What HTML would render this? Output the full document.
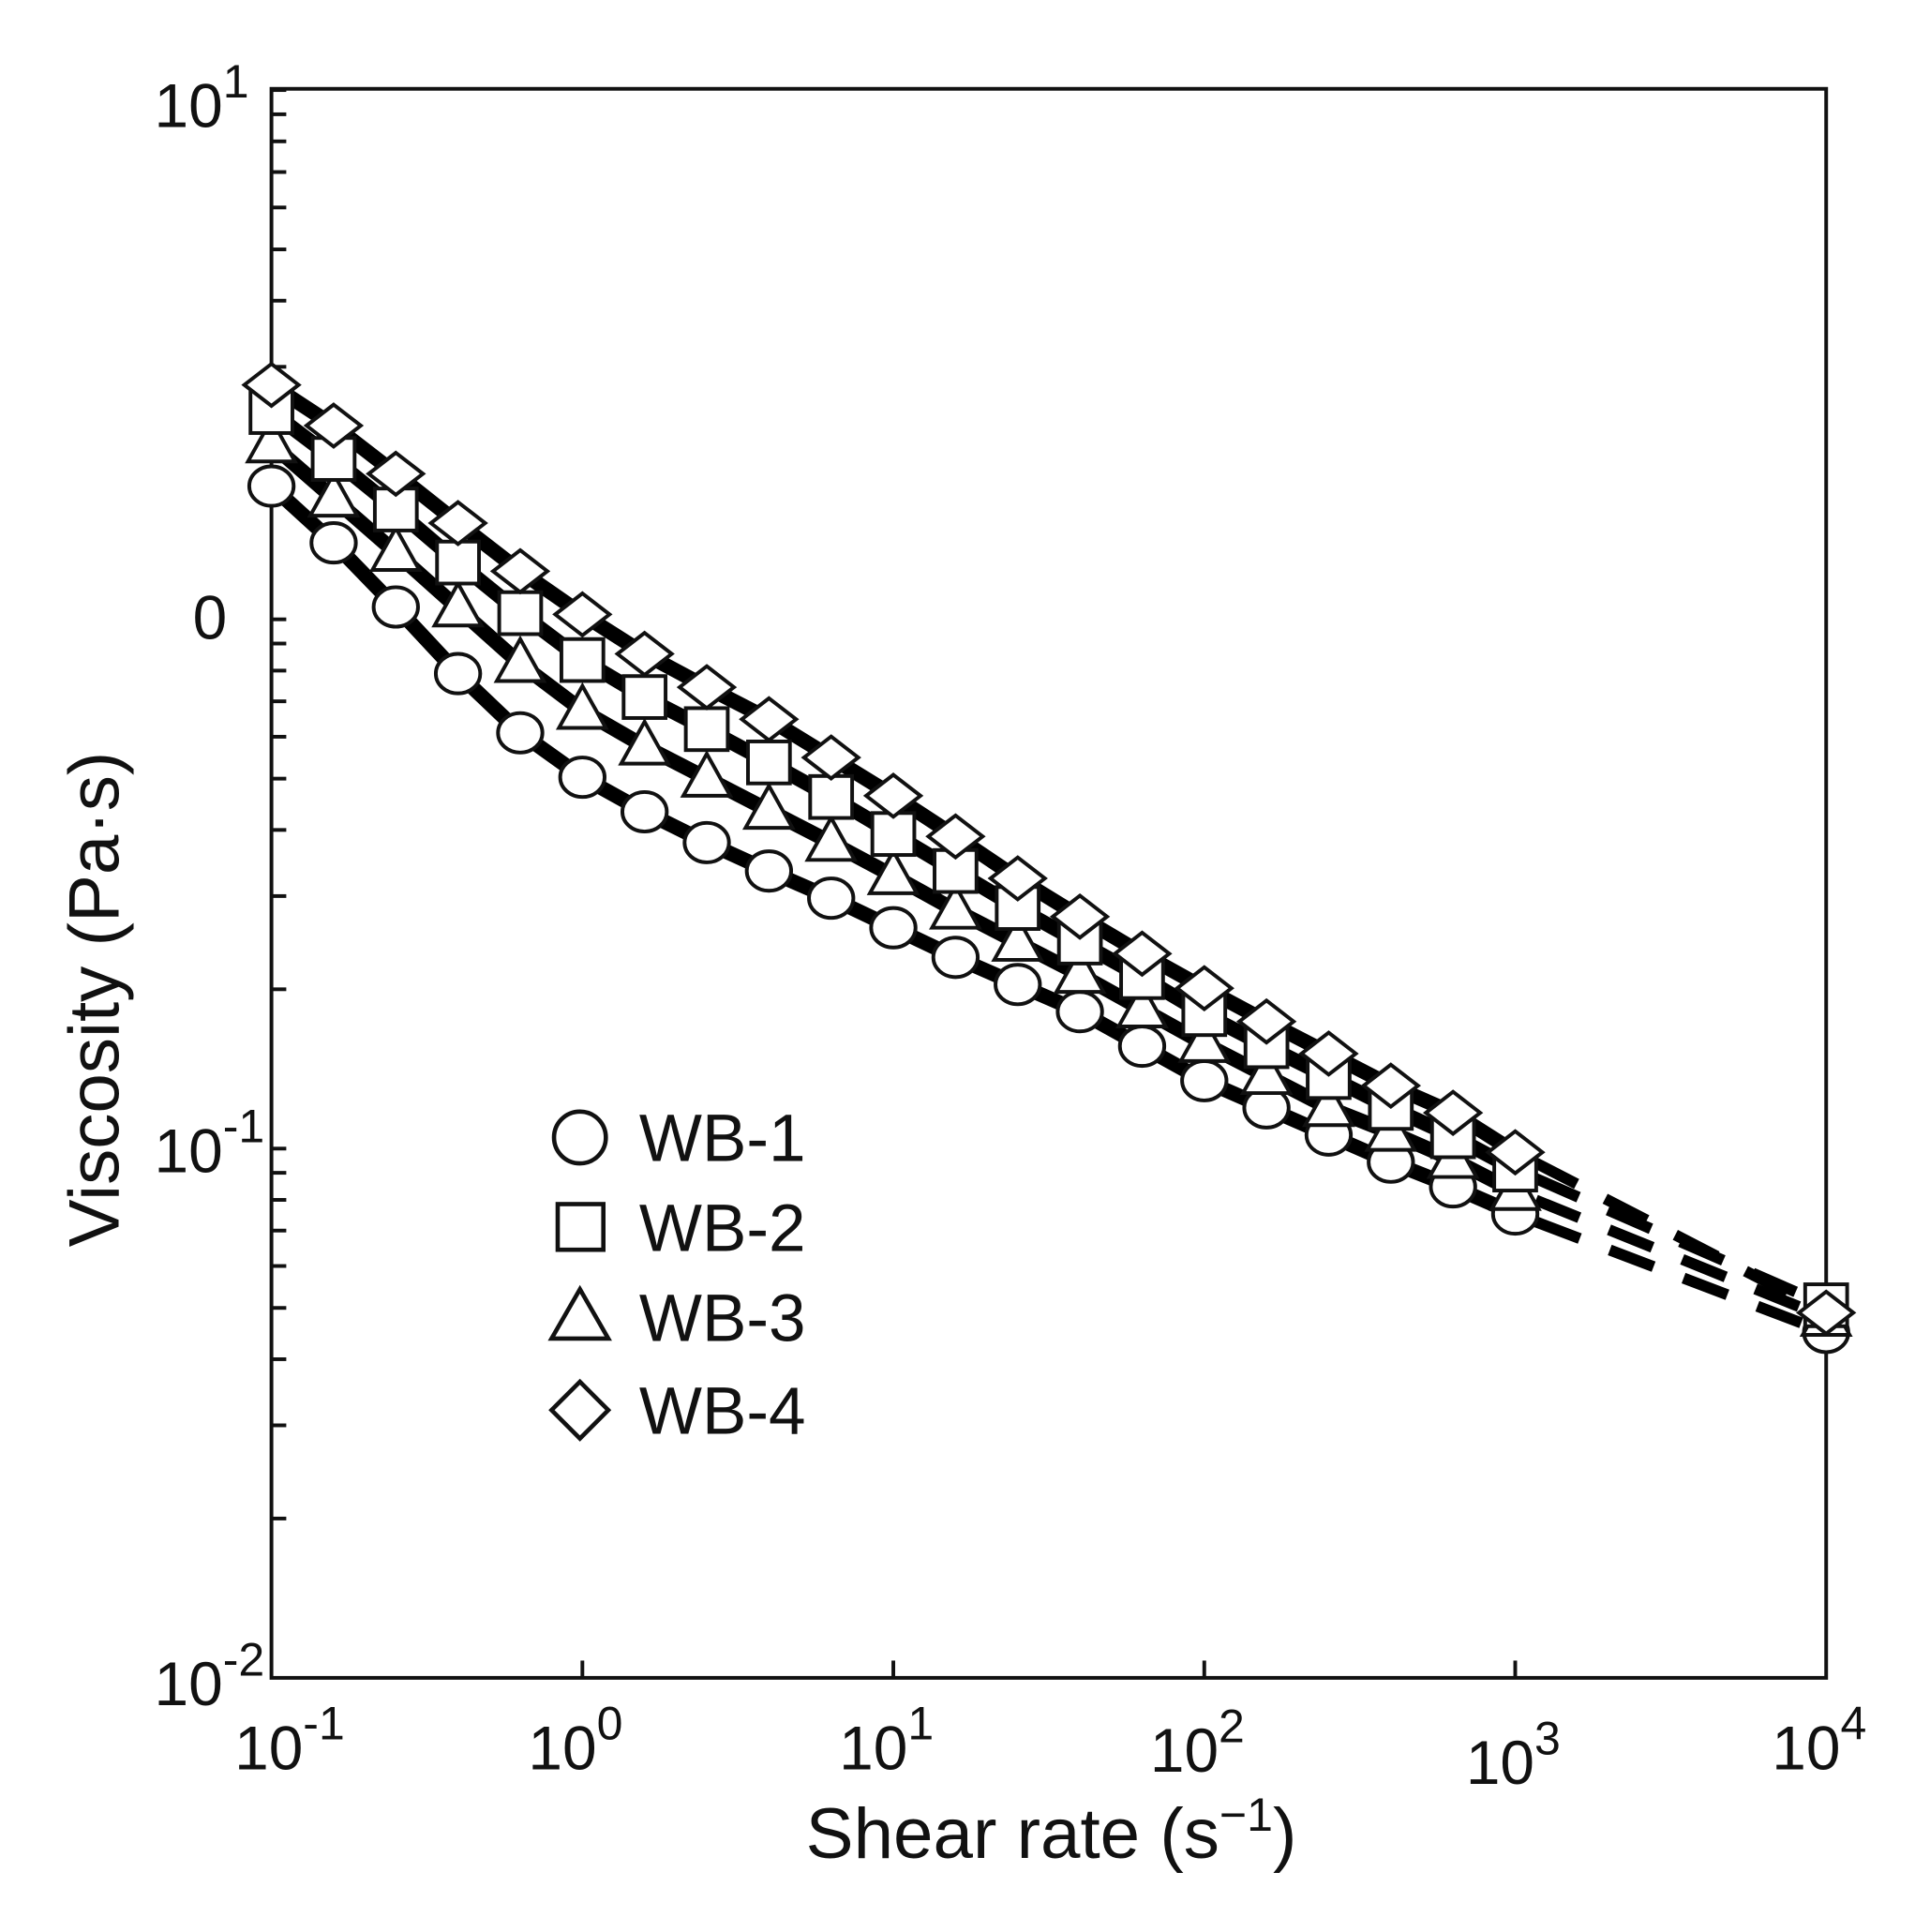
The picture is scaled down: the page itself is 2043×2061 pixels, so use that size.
<!DOCTYPE html>
<html><head><meta charset="utf-8"><style>
html,body{margin:0;padding:0;background:#fff;}
svg{display:block;}
text{font-family:"Liberation Sans",Arial,sans-serif;fill:#111;}
</style></head><body>
<svg width="2043" height="2061" viewBox="0 0 1552 1566" preserveAspectRatio="none" xmlns="http://www.w3.org/2000/svg">
<rect width="1552" height="1566" fill="#fff"/>
<g id="g"></g>
</svg>
<script>
const NS="http://www.w3.org/2000/svg";
const g=document.getElementById("g");
function el(t,a,txt){const e=document.createElementNS(NS,t);for(const k in a)e.setAttribute(k,a[k]);if(txt!=null)e.textContent=txt;g.appendChild(e);return e;}
const L=220,R=1480,T=72,B=1360,D=429;
el("rect",{x:L,y:T,width:R-L,height:B-T,fill:"none",stroke:"#111","stroke-width":3});
for(let d=0;d<3;d++){const base=B-d*D;for(let m=2;m<=9;m++){const y=base-Math.log10(m)*D;el("line",{x1:L,y1:y,x2:L+12,y2:y,stroke:"#111","stroke-width":3});}
 el("line",{x1:L,y1:base-D,x2:L+12,y2:base-D,stroke:"#111","stroke-width":3});}
for(let i=1;i<5;i++){const x=L+i*252;el("line",{x1:x,y1:B,x2:x,y2:B-14,stroke:"#111","stroke-width":3});}
const xs=[];for(let i=0;i<21;i++)xs.push(L+i*50.4);
const S={
c:[394,440,492,546,594,630,658,683,706,728,752,776,798,820,848,876,898,920,942,962,984,1080],
s:[334,372,413,456,497,535,565,591,618,646,676,706,736,764,792,822,848,873,898,921,948,1058],
t:[360,404,448,493,538,576,605,631,657,683,710,738,764,790,818,846,872,898,918,940,966,1068],
d:[312,345,384,424,463,498,530,557,583,614,645,678,712,743,773,801,828,854,880,902,934,1064]};
const order=["c","t","s","d"];
for(const k of order){const ys=S[k];let p="";for(let i=0;i<21;i++)p+=(i?"L":"M")+xs[i]+" "+ys[i];
 el("path",{d:p,fill:"none",stroke:"#000","stroke-width":12,"stroke-linejoin":"round"});
 el("line",{x1:xs[20],y1:ys[20],x2:R,y2:ys[21],stroke:"#000","stroke-width":9,"stroke-dasharray":"38 26","stroke-dashoffset":"-18"});}
function mk(k,x,y){const a={fill:"#fff",stroke:"#111","stroke-width":3};
 if(k=="c")el("ellipse",Object.assign({cx:x,cy:y,rx:18,ry:16},a));
 if(k=="s")el("rect",Object.assign({x:x-17,y:y-17,width:34,height:34},a));
 if(k=="t")el("polygon",Object.assign({points:`${x},${y-20} ${x+19},${y+14} ${x-19},${y+14}`},a));
 if(k=="d")el("polygon",Object.assign({points:`${x},${y-17} ${x+22},${y} ${x},${y+17} ${x-22},${y}`},a));}
for(const k of order){const ys=S[k];for(let i=0;i<21;i++)mk(k,xs[i],ys[i]);mk(k,R,ys[21]);}
const lg=[["c","WB-1",922],["s","WB-2",995],["t","WB-3",1068],["d","WB-4",1143]];
for(const [k,t,y] of lg){
 const a={fill:"#fff",stroke:"#111","stroke-width":3.5};
 if(k=="c")el("circle",Object.assign({cx:470,cy:y,r:21},a));
 if(k=="s")el("rect",Object.assign({x:452,y:y-19,width:37,height:37},a));
 if(k=="t")el("polygon",Object.assign({points:`470,${y-23} 493,${y+17} 447,${y+17}`},a));
 if(k=="d")el("polygon",Object.assign({points:`470,${y-23} 493,${y} 470,${y+23} 447,${y}`},a));
 el("text",{x:518,y:y+19,"font-size":54},t);}
function pw(x,y,exp){const t=el("text",{x:x,y:y,"font-size":50});t.innerHTML=`10<tspan dy="-24" font-size="38">${exp}</tspan>`;return t;}
pw(125,103,"1");
el("text",{x:184,y:518,"font-size":50,"text-anchor":"end"},"0");
pw(125,950,"-1");
pw(125,1382,"-2");
const xl=[[190,1434,"-1"],[428,1434,"0"],[680,1434,"1"],[932,1436,"2"],[1188,1446,"3"],[1436,1434,"4"]];
for(const [x,y,e] of xl)pw(x,y,e);
el("text",{x:852,y:1506,"font-size":58,"text-anchor":"middle"}).innerHTML='Shear rate (s<tspan dy="-22" font-size="38">−1</tspan><tspan dy="22">)</tspan>';
el("text",{x:0,y:0,"font-size":58,"text-anchor":"middle",transform:"translate(96,810) rotate(-90)"},"Viscosity (Pa·s)");
</script>
</body></html>
